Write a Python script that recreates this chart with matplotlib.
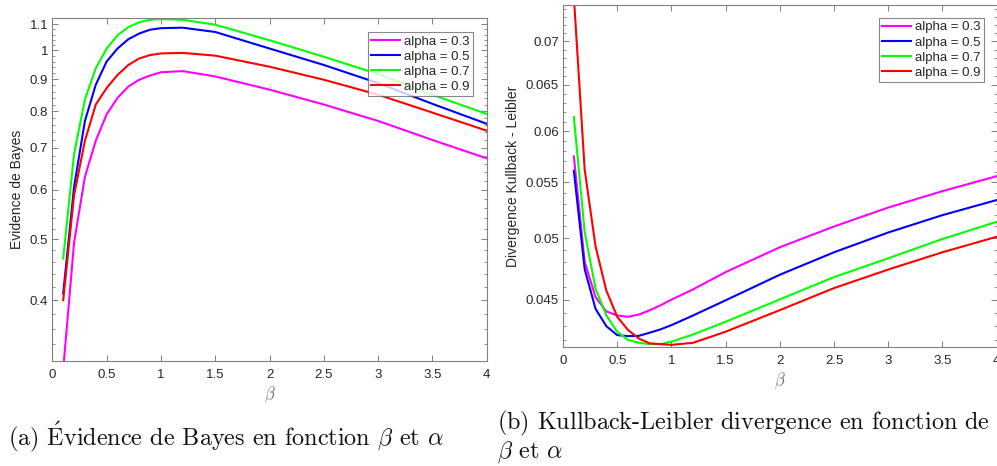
import numpy as np
import matplotlib
matplotlib.use('Agg')
import matplotlib.pyplot as plt

# -- Data --
ALPHAS = ['0.3', '0.5', '0.7', '0.9']
COLORS = ['#ff00ff', '#0000ff', '#00ff00', '#ff0000']

BETA = [0.1, 0.2, 0.3, 0.4, 0.5, 0.6, 0.7, 0.8, 0.9, 1.0, 1.2, 1.5, 2.0, 2.5, 3.0, 3.5, 4.0]

# (a) Bayes evidence
EVID_03 = [0.31, 0.494, 0.629, 0.718, 0.791, 0.840, 0.876, 0.898, 0.912, 0.923, 0.927,
           0.909, 0.866, 0.820, 0.772, 0.720, 0.673]
EVID_05 = [0.41, 0.606, 0.772, 0.882, 0.960, 1.007, 1.042, 1.064, 1.079, 1.085, 1.087,
           1.070, 1.007, 0.948, 0.887, 0.822, 0.764]
EVID_07 = [0.466, 0.684, 0.835, 0.937, 1.007, 1.057, 1.089, 1.109, 1.119, 1.122, 1.119,
           1.099, 1.038, 0.977, 0.917, 0.850, 0.792]
EVID_09 = [0.40, 0.588, 0.718, 0.820, 0.871, 0.914, 0.948, 0.971, 0.983, 0.989, 0.991,
           0.981, 0.942, 0.898, 0.850, 0.796, 0.745]

# (b) Kullback-Leibler divergence
KL_03 = [0.0575, 0.0480, 0.0452, 0.0441, 0.0438, 0.0437, 0.04387, 0.04419, 0.04457, 0.0450,
         0.0458, 0.04717, 0.04922, 0.0510, 0.05268, 0.05418, 0.05558]
KL_05 = [0.0561, 0.0474, 0.0443, 0.0430, 0.04235, 0.04228, 0.0423, 0.04253, 0.04277, 0.04308,
         0.0438, 0.04495, 0.04696, 0.0488, 0.05048, 0.0520, 0.05336]
KL_07 = [0.0615, 0.0505, 0.04585, 0.0438, 0.0426, 0.0420, 0.0418, 0.0417, 0.0417, 0.04188,
         0.0424, 0.04333, 0.04502, 0.04677, 0.0483, 0.04992, 0.05141]
KL_09 = [0.0756, 0.0562, 0.0493, 0.0457, 0.0437, 0.04272, 0.0421, 0.04176, 0.0417, 0.04165,
         0.0418, 0.0426, 0.0442, 0.0459, 0.04738, 0.0488, 0.05011]

EVID_TICKS = [0.4, 0.5, 0.6, 0.7, 0.8, 0.9, 1.0, 1.1]
EVID_LABELS = ['0.4', '0.5', '0.6', '0.7', '0.8', '0.9', '1', '1.1']
KL_TICKS = [0.045, 0.05, 0.055, 0.06, 0.065, 0.07]
KL_LABELS = ['0.045', '0.05', '0.055', '0.06', '0.065', '0.07']
X_TICKS = [0, 0.5, 1, 1.5, 2, 2.5, 3, 3.5, 4]
X_LABELS = ['0', '0.5', '1', '1.5', '2', '2.5', '3', '3.5', '4']

plt.rcParams['font.family'] = ['Liberation Sans', 'DejaVu Sans']
plt.rcParams['mathtext.fontset'] = 'cm'

AX_COL = '#808080'
TXT_COL = '#262626'

fig = plt.figure(figsize=(9.97, 4.66), dpi=100)
ax1 = fig.add_axes([0.0525, 0.2253, 0.4357, 0.7354])
ax2 = fig.add_axes([0.5647, 0.2554, 0.4350, 0.7340])


def style_axes(ax):
    ax.set_yscale('log')
    for sp in ax.spines.values():
        sp.set_color(AX_COL)
        sp.set_linewidth(0.8)
    ax.tick_params(which='both', direction='in', top=True, right=True,
                   colors=AX_COL, labelcolor=TXT_COL, labelsize=9.5)
    ax.tick_params(which='major', length=4, width=0.7)
    ax.tick_params(which='minor', length=2, width=0.6)
    ax.tick_params(axis='x', pad=6)
    ax.tick_params(axis='y', pad=3)
    ax.set_xlim(0, 4)
    ax.set_xticks(X_TICKS, X_LABELS)
    ax.set_xlabel(r'$\beta$', color='#707070', fontsize=12, labelpad=2)


series_a = [EVID_03, EVID_05, EVID_07, EVID_09]
series_b = [KL_03, KL_05, KL_07, KL_09]

for vals, col, a in zip(series_a, COLORS, ALPHAS):
    ax1.plot(BETA, vals, color=col, lw=1.5, label=f'alpha = {a}')
for vals, col, a in zip(series_b, COLORS, ALPHAS):
    ax2.plot(BETA, vals, color=col, lw=1.5, label=f'alpha = {a}')

style_axes(ax1)
ax1.set_ylim(0.32, 1.125)
ax1.set_yticks(EVID_TICKS, EVID_LABELS)
ax1.set_yticks(np.arange(0.34, 1.12, 0.02), minor=True)
ax1.yaxis.set_minor_formatter(matplotlib.ticker.NullFormatter())
ax1.set_ylabel('Evidence de Bayes', color=TXT_COL, fontsize=10, labelpad=4)

style_axes(ax2)
ax2.set_ylim(0.0415, 0.0745)
ax2.set_yticks(KL_TICKS, KL_LABELS)
ax2.set_yticks(np.arange(0.042, 0.0745, 0.001), minor=True)
ax2.yaxis.set_minor_formatter(matplotlib.ticker.NullFormatter())
ax2.set_ylabel('Divergence Kullback - Leibler', color=TXT_COL, fontsize=10, labelpad=4)

for ax, anchor in ((ax1, (0.9685, 0.96)), (ax2, (0.9707, 0.962))):
    leg = ax.legend(loc='upper right', bbox_to_anchor=anchor, borderaxespad=0,
                    fontsize=9.5, frameon=True, fancybox=False, labelspacing=0.22,
                    handlelength=2.2, handletextpad=0.3, borderpad=0.25)
    leg.get_frame().set_edgecolor('#6a6a6a')
    leg.get_frame().set_linewidth(0.8)
    for t in leg.get_texts():
        t.set_color(TXT_COL)

cap_a = r'$\text{(a) }\acute{\mathrm{E}}\text{vidence de Bayes en fonction }\beta\text{ et }\alpha$'
cap_b1 = r'$\text{(b) Kullback-Leibler divergence en fonction de}$'
cap_b2 = r'$\beta\text{ et }\alpha$'
fig.text(8 / 997, 1 - 437 / 466, cap_a, fontsize=17.4, va='center', ha='left', color='#111111')
fig.text(497 / 997, 1 - 423 / 466, cap_b1, fontsize=17.4, va='center', ha='left', color='#111111')
fig.text(497 / 997, 1 - 452 / 466, cap_b2, fontsize=17.4, va='center', ha='left', color='#111111')

fig.savefig('out.png', dpi=100)
